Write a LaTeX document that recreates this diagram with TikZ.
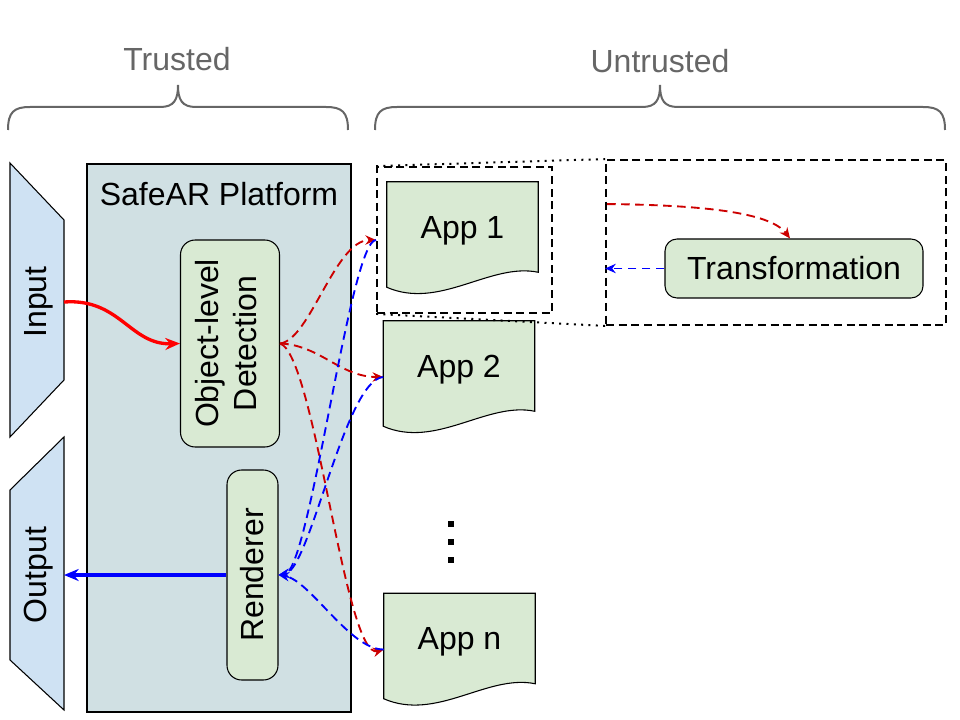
\documentclass[tikz,border=0pt]{standalone}
\usepackage{fontspec}
\setmainfont{Liberation Sans}
\usetikzlibrary{arrows.meta,calc,backgrounds}
\definecolor{trapblue}{HTML}{CFE2F3}
\definecolor{platcol}{HTML}{D0E0E3}
\definecolor{appgreen}{HTML}{D9EAD3}
\definecolor{darkred}{HTML}{CC0000}
\definecolor{brightred}{HTML}{FF0000}
\definecolor{pureblue}{HTML}{0000FF}
\definecolor{graytext}{HTML}{666666}
\newcommand\docshape[1]{%
  \begin{scope}[on background layer]
  \draw[black, fill=appgreen, line width=0.8pt] (#1.north west) -- (#1.north east) -- (#1.south east)
    .. controls ($(#1.south east)+(-48,-10)$) and ($(#1.south west)+(53,38)$) .. ($(#1.south west)+(0,15)$) -- cycle;
  \end{scope}}
\begin{document}
\begin{tikzpicture}[x=0.75pt,y=-0.75pt,
  font=\fontsize{24}{28}\selectfont,
  brace/.style={draw=graytext, line width=1.5pt},
  toplabel/.style={text=graytext, inner sep=0pt},
  trap/.style={draw=black, fill=trapblue, line width=0.8pt},
  plat/.style={draw=black, fill=platcol, line width=0.8pt, minimum width=198pt, minimum height=411pt, inner sep=0pt},
  rbox/.style={draw=black, fill=appgreen, line width=0.8pt, rounded corners=11pt, inner sep=0pt},
  appbox/.style={draw=none, minimum width=113.25pt, minimum height=67.5pt, inner sep=0pt, text depth=0pt},
  dbox/.style={draw=black, dashed, dash pattern=on 6pt off 3.5pt, line width=1.4pt, inner sep=0pt},
  zoomline/.style={draw=black, dotted, dash pattern=on 1.5pt off 4pt, line width=1.5pt},
  redarr/.style={draw=darkred, line width=1.4pt, dash pattern=on 6.5pt off 4pt, -{Stealth[length=8pt,width=7pt]}},
  bluearr/.style={draw=pureblue, line width=1.4pt, dash pattern=on 6.5pt off 4pt, -{Stealth[length=8pt,width=7pt]}},
  solidarr/.style={line width=2.5pt, -{Stealth[length=11pt,width=9pt]}},
  txt/.style={inner sep=0pt}
]
\useasboundingbox (0,0) rectangle (960,720);

% top labels and braces
\node[toplabel] (trusted) at (177,59) {Trusted};
\node[toplabel] (untrusted) at (660,61) {Untrusted};
\draw[brace] (8,130) .. controls (8,112) and (14,107) .. (30,107) -- (160,107)
  .. controls (174,107) and (178,100) .. (178,85)
  .. controls (178,100) and (182,107) .. (196,107) -- (326,107)
  .. controls (342,107) and (348,112) .. (348,130);
\draw[brace] (375,130) .. controls (375,112) and (381,107) .. (397,107) -- (642,107)
  .. controls (656,107) and (660,100) .. (660,85)
  .. controls (660,100) and (664,107) .. (678,107) -- (923,107)
  .. controls (939,107) and (945,112) .. (945,130);

% input / output trapezoids
\draw[trap] (10,163) -- (64,220) -- (64,380) -- (10,437) -- cycle;
\node[txt] (input) at (39,302) {\rotatebox{90}{Input}};
\draw[trap] (10,490) -- (64,437) -- (64,710) -- (10,660) -- cycle;
\node[txt] (output) at (39,575) {\rotatebox{90}{Output}};
\coordinate (inR) at (64,302);
\coordinate (outR) at (64,575);

% platform
\node[plat] (plat) at (219,438) {};
\node[txt] (platlabel) at (219,194) {SafeAR Platform};
\node[rbox, minimum width=74.25pt, minimum height=155.25pt] (det) at (230,343.5)
  {\rotatebox{90}{\begin{tabular}{@{}c@{}}Object-level\\Detection\end{tabular}}};
\node[rbox, minimum width=38.25pt, minimum height=157.5pt] (rend) at (252.5,575)
  {\rotatebox{90}{Renderer}};

% apps
\node[appbox] (app1) at (462.5,227) {App 1};
\docshape{app1}
\node[appbox] (app2) at (459,366) {App 2};
\docshape{app2}
\node[appbox] (appn) at (459.5,638.5) {App n};
\docshape{appn}
\foreach \yy in {524,542,560} \fill[black] (448,\yy-3) rectangle (454,\yy+3);

% dashed boxes and zoom lines
\node[dbox, minimum width=131.25pt, minimum height=109.5pt] (box1) at (464.5,240) {};
\node[dbox, minimum width=255pt, minimum height=123.75pt] (tbox) at (776,242.5) {};
\draw[zoomline] (box1.north west) -- (tbox.north west);
\draw[zoomline] (box1.south west) -- (tbox.south west);
\node[rbox, minimum width=193.5pt, minimum height=44.25pt, rounded corners=9pt] (trans) at (794,268.5) {Transformation};

% arrows
\draw[solidarr, draw=brightred] (inR) .. controls (120,298) and (130,345) .. (det.west);
\draw[solidarr, draw=pureblue] (rend.west) -- (outR);

\draw[redarr] (det.east) .. controls (310,340) and (335,240) .. (box1.west);
\draw[redarr] (det.east) .. controls (320,345) and (340,377) .. ($(app2.west)+(0,11)$);
\draw[redarr] (det.east) .. controls (315,355) and (345,660) .. ($(appn.west)+(0,11)$);

\draw[bluearr] (box1.west) .. controls (350,240) and (310,570) .. (rend.east);
\draw[bluearr] ($(app2.west)+(0,11)$) .. controls (345,380) and (310,570) .. (rend.east);
\draw[bluearr] ($(appn.west)+(0,11)$) .. controls (350,650) and (310,580) .. (rend.east);

\draw[redarr] ($(tbox.north west)+(2,45)$) .. controls (700,205) and (770,212) .. ($(trans.north)+(-4,0)$);
\draw[bluearr] (trans.west) -- (trans.west -| tbox.west);
\end{tikzpicture}
\end{document}
